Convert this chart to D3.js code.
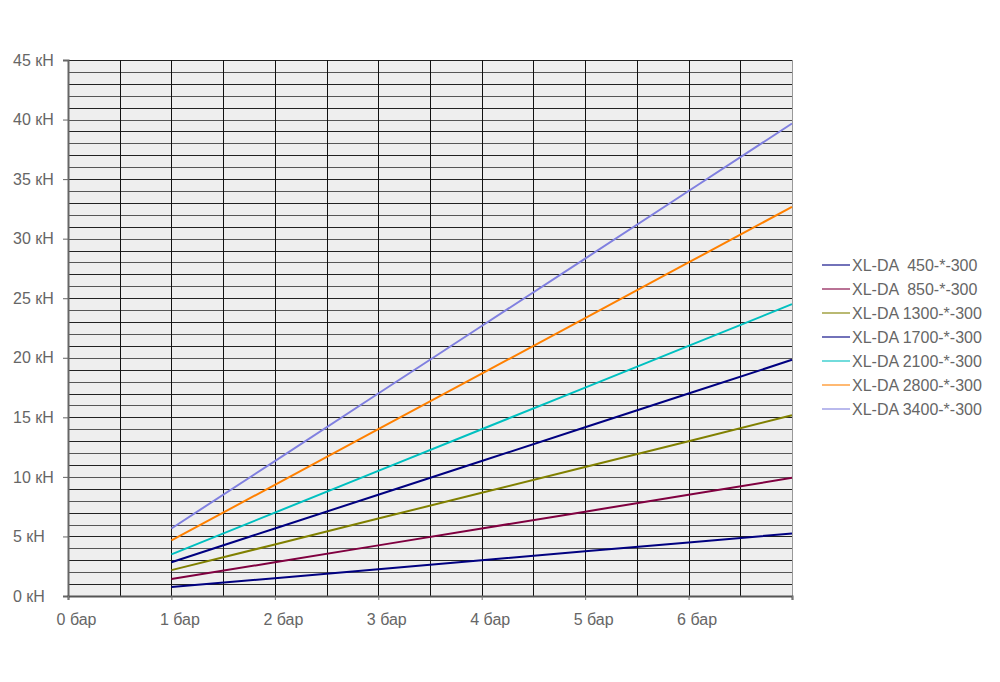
<!DOCTYPE html>
<html><head><meta charset="utf-8">
<script src="https://cdn.jsdelivr.net/npm/d3@7"></script>
<style>body{margin:0;background:#fff;} text{font-family:"Liberation Sans",Arial,sans-serif;}</style>
</head><body><svg id="c" width="1000" height="682"></svg>
<script>
const pressures = [1, 2, 3, 4, 5, 6, 7];
const seriesNames = ["XL-DA  450-*-300","XL-DA  850-*-300","XL-DA 1300-*-300","XL-DA 1700-*-300","XL-DA 2100-*-300","XL-DA 2800-*-300","XL-DA 3400-*-300"];
const s450  = [0.75, 1.5, 2.25, 3.0, 3.75, 4.5, 5.25];
const s850  = [1.42, 2.83, 4.25, 5.67, 7.08, 8.5, 9.92];
const s1300 = [2.17, 4.33, 6.5, 8.67, 10.83, 13.0, 15.17];
const s1700 = [2.83, 5.67, 8.5, 11.33, 14.17, 17.0, 19.83];
const s2100 = [3.5, 7.0, 10.5, 14.0, 17.5, 21.0, 24.5];
const s2800 = [4.67, 9.33, 14.0, 18.67, 23.33, 28.0, 32.67];
const s3400 = [5.67, 11.33, 17.0, 22.67, 28.33, 34.0, 39.67];
const seriesColors = ["#000080","#800040","#808000","#000080","#00C0C0","#FF8000","#8080E0"];
const xTickLabels = ["0 бар","1 бар","2 бар","3 бар","4 бар","5 бар","6 бар"];
const yTickLabels = ["0 кН","5 кН","10 кН","15 кН","20 кН","25 кН","30 кН","35 кН","40 кН","45 кН"];

const allSeries = [s450, s850, s1300, s1700, s2100, s2800, s3400];
const svg = d3.select("#c");
const L = 68, R = 792, T = 60, B = 596;
const x = d3.scaleLinear().domain([0, 7]).range([L, R]);
const y = d3.scaleLinear().domain([0, 45]).range([B, T]);

svg.append("rect").attr("x", L).attr("y", T).attr("width", R - L).attr("height", B - T).attr("fill", "#eeeeee");

// horizontal grid every 1 kN
svg.append("g").selectAll("line").data(d3.range(1, 46)).join("line")
  .attr("x1", L).attr("x2", R)
  .attr("y1", d => Math.round(y(d)) + 0.5).attr("y2", d => Math.round(y(d)) + 0.5)
  .attr("stroke", (d, i) => i % 2 ? "#555" : "#222").attr("stroke-width", 1);
// vertical grid every 0.5 bar
svg.append("g").selectAll("line").data(d3.range(1, 14).map(d => d / 2)).join("line")
  .attr("y1", T).attr("y2", B)
  .attr("x1", d => Math.round(x(d)) + 0.5).attr("x2", d => Math.round(x(d)) + 0.5)
  .attr("stroke", "#111").attr("stroke-width", 1);
// right border
svg.append("line").attr("x1", R + 0.5).attr("x2", R + 0.5).attr("y1", T).attr("y2", B).attr("stroke", "#999");

// y axis
const yAxis = d3.axisLeft(y).tickValues(d3.range(0, 46, 5)).tickSize(5).tickFormat((d, i) => yTickLabels[i]);
const gy = svg.append("g").attr("transform", `translate(${L},0)`).call(yAxis);
gy.select(".domain").attr("stroke", "#666").attr("stroke-width", 2);
gy.selectAll(".tick line").attr("stroke", "#666");
gy.selectAll(".tick text").attr("fill", "#666").attr("font-size", 16)
  .attr("text-anchor", "start").attr("x", 13 - L);

// x axis
const xAxis = d3.axisBottom(x).tickValues(d3.range(0, 8)).tickSize(4).tickFormat((d, i) => xTickLabels[i] || "");
const gx = svg.append("g").attr("transform", `translate(0,${B})`).call(xAxis);
gx.select(".domain").attr("stroke", "#555").attr("stroke-width", 2);
gx.selectAll(".tick line").attr("stroke", "#777");
gx.selectAll(".tick text").attr("fill", "#666").attr("font-size", 16)
  .attr("dy", null).attr("y", 29).attr("x", 8);

// series
const line = d3.line().x((d, i) => x(pressures[i])).y(d => y(d));
svg.append("g").selectAll("path").data(allSeries).join("path")
  .attr("d", line).attr("fill", "none")
  .attr("stroke", (d, i) => seriesColors[i]).attr("stroke-width", 2);

// legend
const lg = svg.append("g");
const ly = d3.scaleLinear().domain([0, 6]).range([265, 409]);
seriesNames.forEach((n, i) => {
  lg.append("line").attr("x1", 822).attr("x2", 850).attr("y1", ly(i)).attr("y2", ly(i))
    .attr("stroke", seriesColors[i]).attr("stroke-width", 2).attr("opacity", 0.55);
  lg.append("text").attr("x", 852).attr("y", ly(i) + 6).attr("font-size", 16).attr("fill", "#666")
    .style("white-space", "pre").text(n);
});
</script></body></html>
